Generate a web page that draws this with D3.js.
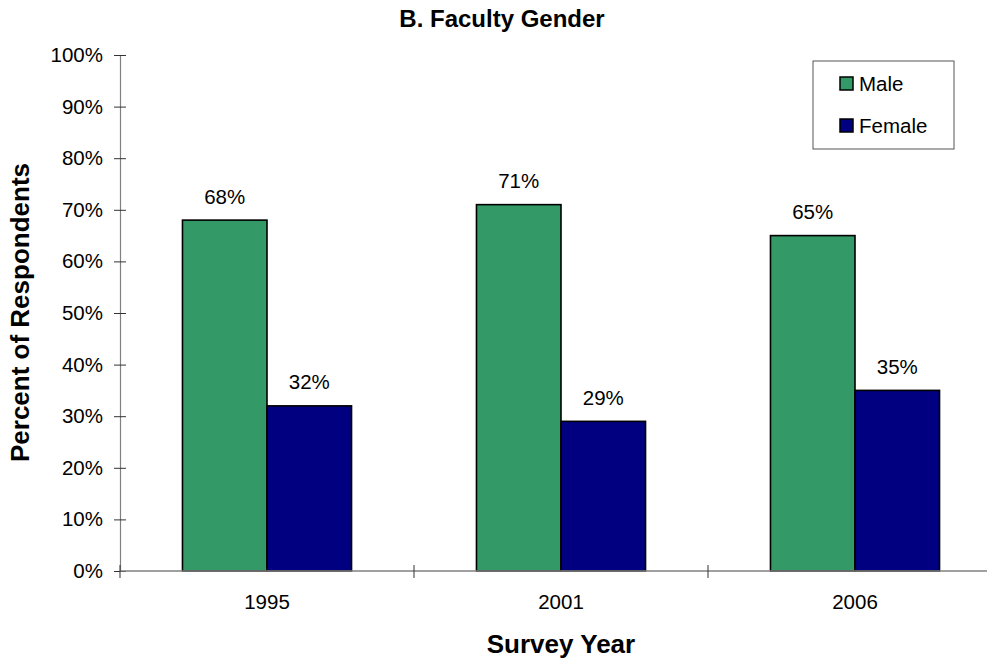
<!DOCTYPE html>
<html>
<head>
<meta charset="utf-8">
<script src="https://cdn.jsdelivr.net/npm/d3@7"></script>
<style>
  html, body { margin: 0; padding: 0; background: #fff; }
  svg { display: block; font-family: "Liberation Sans", Arial, sans-serif; }
</style>
</head>
<body>
<svg id="chart" width="987" height="659"></svg>
<script>
const categories = ["1995", "2001", "2006"];
const seriesNames = ["Male", "Female"];
const maleValues = [68, 71, 65];
const femaleValues = [32, 29, 35];
const yTicks = [0, 10, 20, 30, 40, 50, 60, 70, 80, 90, 100];
const colors = ["#339966", "#000080"];

const svg = d3.select("#chart");
const plotLeft = 120, plotRight = 1002, plotTop = 55, plotBottom = 571;
const fs = 20.5;

const x = d3.scaleBand().domain(categories).range([plotLeft, plotRight]).padding(0);
const groupWidth = x.bandwidth() * 0.575;
const xInner = d3.scaleBand().domain(seriesNames)
  .range([(x.bandwidth() - groupWidth) / 2, (x.bandwidth() + groupWidth) / 2]).padding(0);
const y = d3.scaleLinear().domain([0, 100]).range([plotBottom, plotTop]);

// Title
svg.append("text").attr("x", 502).attr("y", 27).attr("text-anchor", "middle")
  .attr("font-size", 24).attr("font-weight", "bold").text("B. Faculty Gender");

// Y axis
const yAxis = d3.axisLeft(y).tickValues(yTicks).tickFormat(d => d + "%").tickSize(6).tickPadding(10);
const gy = svg.append("g").attr("transform", `translate(${plotLeft},0)`).call(yAxis);
gy.select(".domain").attr("stroke", "#808080").attr("stroke-width", 1.2);
gy.selectAll(".tick line").attr("x2", 6).attr("x1", -6).attr("stroke", "#333");
gy.selectAll(".tick text").attr("font-size", fs).attr("fill", "#000").attr("x", -17);

// Bars
const data = categories.map((c, i) => ({ cat: c, vals: [maleValues[i], femaleValues[i]] }));
const groups = svg.append("g").selectAll("g").data(data).join("g")
  .attr("transform", d => `translate(${x(d.cat)},0)`);
groups.selectAll("rect").data(d => d.vals.map((v, j) => ({ name: seriesNames[j], v, j })))
  .join("rect")
  .attr("x", d => xInner(d.name))
  .attr("y", d => y(d.v))
  .attr("width", xInner.bandwidth())
  .attr("height", d => y(0) - y(d.v))
  .attr("fill", d => colors[d.j])
  .attr("stroke", "#000").attr("stroke-width", 1.6);
groups.selectAll("text.lbl").data(d => d.vals.map((v, j) => ({ name: seriesNames[j], v, j })))
  .join("text").attr("class", "lbl")
  .attr("x", d => xInner(d.name) + xInner.bandwidth() / 2)
  .attr("y", d => y(d.v) - 16.5)
  .attr("text-anchor", "middle").attr("font-size", fs)
  .text(d => d.v + "%");

// X axis
const xAxisG = svg.append("g").attr("transform", `translate(0,${plotBottom})`);
xAxisG.append("line").attr("x1", plotLeft).attr("x2", plotRight).attr("y1", 0).attr("y2", 0)
  .attr("stroke", "#808080").attr("stroke-width", 1.5);
const boundaries = categories.map(c => x(c)).concat([x(categories[categories.length - 1]) + x.bandwidth()]);
xAxisG.selectAll("line.tk").data(boundaries).join("line").attr("class", "tk")
  .attr("x1", d => d).attr("x2", d => d).attr("y1", -6).attr("y2", 7)
  .attr("stroke", "#333").attr("stroke-width", 1);
xAxisG.selectAll("text.cat").data(categories).join("text").attr("class", "cat")
  .attr("x", d => x(d) + x.bandwidth() / 2).attr("y", 38)
  .attr("text-anchor", "middle").attr("font-size", fs).text(d => d);

// Axis titles
svg.append("text").attr("x", 561).attr("y", 653).attr("text-anchor", "middle")
  .attr("font-size", 26).attr("font-weight", "bold").text("Survey Year");
svg.append("text").attr("transform", "translate(29,312.5) rotate(-90)").attr("text-anchor", "middle")
  .attr("font-size", 26).attr("font-weight", "bold").text("Percent of Respondents");

// Legend
const lg = svg.append("g");
lg.append("rect").attr("x", 813).attr("y", 61).attr("width", 141).attr("height", 88)
  .attr("fill", "#fff").attr("stroke", "#555").attr("stroke-width", 1);
seriesNames.forEach((n, i) => {
  const yy = 77 + i * 42;
  lg.append("rect").attr("x", 840).attr("y", yy).attr("width", 13).attr("height", 13)
    .attr("fill", colors[i]).attr("stroke", "#000").attr("stroke-width", 1.5);
  lg.append("text").attr("x", 859).attr("y", yy + 13.5).attr("font-size", fs).text(n);
});
</script>
</body>
</html>
